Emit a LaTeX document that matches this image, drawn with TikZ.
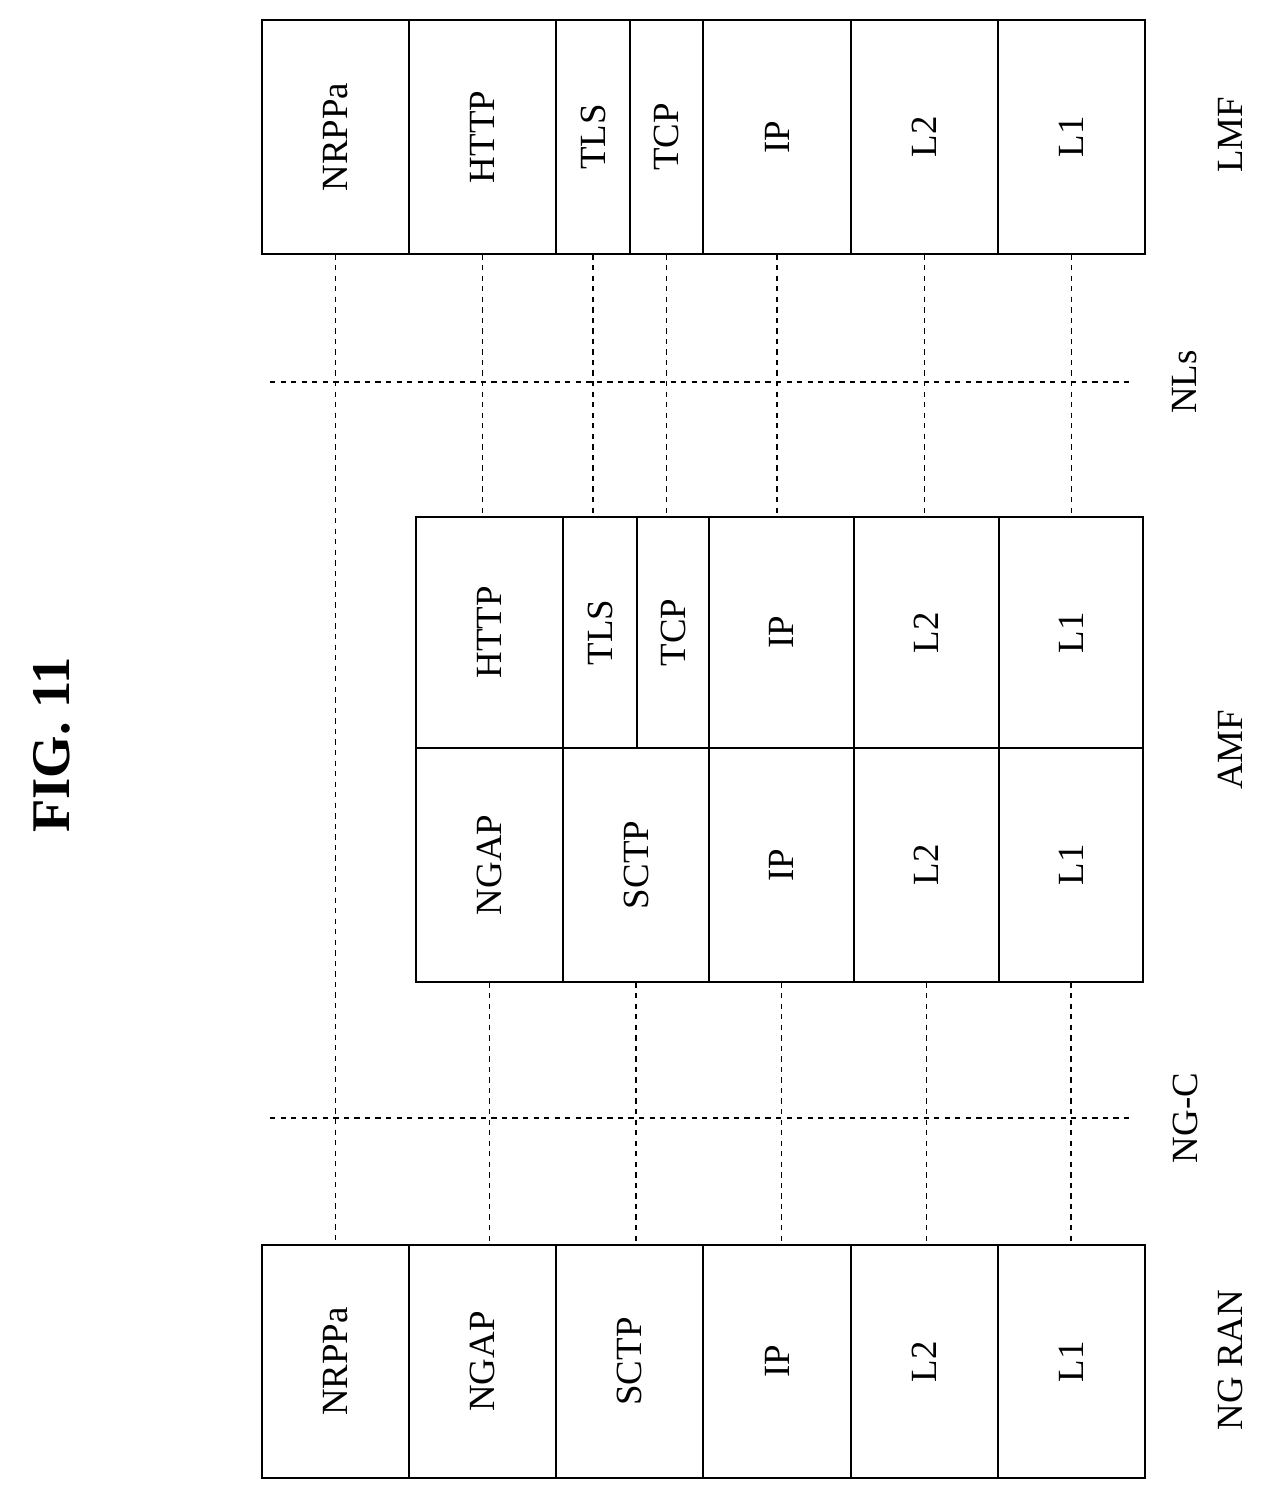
\documentclass[tikz,border=0pt]{standalone}
\usepackage{fontspec}
\setmainfont{Liberation Serif}
\usepackage{graphicx}
\tikzset{
  cell/.style={draw, inner sep=0pt, font=\fontsize{21}{24}\selectfont},
  link/.style={dashed, line width=0.6pt},
  tag/.style={font=\fontsize{21}{24}\selectfont}
}
\newcommand{\rot}[1]{\rotatebox{90}{#1}}
\begin{document}
\begin{tikzpicture}[x=0.02cm, y=-0.02cm, line width=0.6pt]
\useasboundingbox (0,0) rectangle (1270,1501);
% LMF stack
\foreach \n/\a/\b/\t in {1/262/409/NRPPa, 2/409/556/HTTP/2, 3/556/630/TLS, 4/630/703/TCP, 5/703/851/IP, 6/851/998/L2, 7/998/1145/L1}
  \node[cell, minimum width=(\b-\a)*0.02cm, minimum height=234*0.02cm] (lmf\n) at ({(\a+\b)/2},137) {\rot{\t}};
% NG RAN stack
\foreach \n/\a/\b/\t in {1/262/409/NRPPa, 2/409/556/NGAP, 3/556/703/SCTP, 4/703/851/IP, 5/851/998/L2, 6/998/1145/L1}
  \node[cell, minimum width=(\b-\a)*0.02cm, minimum height=233*0.02cm] (ran\n) at ({(\a+\b)/2},1361.5) {\rot{\t}};
% AMF stack, upper half
\foreach \n/\a/\b/\t in {1/416/563/HTTP/2, 2/563/637/TLS, 3/637/709/TCP, 4/709/854/IP, 5/854/999/L2, 6/999/1143/L1}
  \node[cell, minimum width=(\b-\a)*0.02cm, minimum height=231*0.02cm] (amfu\n) at ({(\a+\b)/2},632.5) {\rot{\t}};
% AMF stack, lower half
\foreach \n/\a/\b/\t in {1/416/563/NGAP, 2/563/709/SCTP, 3/709/854/IP, 4/854/999/L2, 5/999/1143/L1}
  \node[cell, minimum width=(\b-\a)*0.02cm, minimum height=234*0.02cm] (amfl\n) at ({(\a+\b)/2},865) {\rot{\t}};

% peer links
\draw[link] (lmf1.south) -- (ran1.north);
\foreach \u/\v in {2/1, 3/2, 4/3, 5/4, 6/5, 7/6}
  \draw[link] (lmf\u.south) -- (lmf\u.south |- amfu\v.north);
\foreach \u/\v in {1/2, 2/3, 3/4, 4/5, 5/6}
  \draw[link] (amfl\u.south) -- (amfl\u.south |- ran\v.north);

% interfaces
\coordinate (nls0) at (270,382);
\coordinate (nls1) at (1133,382);
\coordinate (ngc0) at (270,1118);
\coordinate (ngc1) at (1133,1118);
\draw[link] (nls0) -- (nls1);
\draw[link] (ngc0) -- (ngc1);

\node[tag, rotate=90] (lmf) at (1230,135) {LMF};
\node[tag, rotate=90] (nls) at (1185,382) {NLs};
\node[tag, rotate=90] (amf) at (1230,750) {AMF};
\node[tag, rotate=90] (ngc) at (1185,1118) {NG-C};
\node[tag, rotate=90] (ngran) at (1230,1360) {NG RAN};
\node[rotate=90, font=\bfseries\fontsize{31}{36}\selectfont] (fig) at (52,745) {FIG. 11};
\end{tikzpicture}
\end{document}
